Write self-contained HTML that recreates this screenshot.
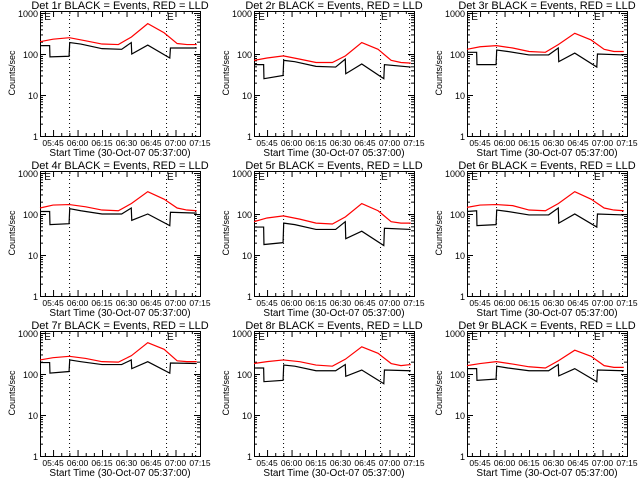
<!DOCTYPE html>
<html><head><meta charset="utf-8"><style>
body{margin:0;background:#fff}
svg{display:block}
text{font-family:"Liberation Sans",sans-serif;fill:#000}
</style></head><body>
<svg id="chart" width="640" height="480" viewBox="0 0 640 480" xmlns="http://www.w3.org/2000/svg"></svg>
<script>
const tickLabels = ["05:45","06:00","06:15","06:30","06:45","07:00","07:15"];
const tickMinutes = [8,23,38,53,68,83,98];
const yTickValues = [1,10,100,1000];
const blackTimes = [0,5.9,6.1,17.8,18.2,25,38,50,55.9,56.2,66,79.5,79.9,96];
const redTimes = [0,8,18,28,38,48,56,66,76,84,90,96];
const detectorNames = ["Det 1r","Det 2r","Det 3r","Det 4r","Det 5r","Det 6r","Det 7r","Det 8r","Det 9r"];
const black1 = [160,160,85,88,190,175,135,130,190,100,165,80,140,140];
const red1 = [200,230,250,210,175,170,260,550,330,180,170,170];
const black2 = [55,55,25,30,70,65,50,48,75,33,57,25,55,48];
const red2 = [70,80,90,75,62,62,90,190,130,70,62,60];
const black3 = [110,110,55,55,125,115,95,95,140,65,105,48,100,95];
const red3 = [130,150,160,140,115,110,170,320,220,130,115,115];
const black4 = [115,115,55,58,135,120,100,100,140,70,100,52,110,105];
const red4 = [140,165,170,150,125,120,180,350,230,140,125,120];
const black5 = [48,48,18,20,60,55,42,42,65,25,38,17,45,42];
const red5 = [65,80,90,75,60,57,85,180,120,65,60,60];
const black6 = [115,120,52,55,125,115,95,95,140,60,100,48,100,95];
const red6 = [145,165,170,160,125,120,180,350,230,140,125,120];
const black7 = [190,190,105,115,220,200,170,170,220,135,200,105,185,180];
const red7 = [220,250,270,240,200,195,280,580,400,210,200,200];
const black8 = [140,140,65,70,165,155,120,120,170,88,125,58,125,120];
const red8 = [180,200,220,200,165,155,230,460,320,180,160,170];
const black9 = [135,135,70,75,155,140,120,120,170,90,135,65,125,120];
const red9 = [160,180,200,175,150,140,210,380,270,160,145,145];
const blackSeries = [black1,black2,black3,black4,black5,black6,black7,black8,black9];
const redSeries = [red1,red2,red3,red4,red5,red6,red7,red8,red9];
const dottedMinutes = [17.8,77.2,95];

const NS="http://www.w3.org/2000/svg";
const svg=document.getElementById('chart');
const W=160, T=11, B=136, TMAX=98, DEC=41;
function mk(tag,attrs,parent){const e=document.createElementNS(NS,tag);for(const k in attrs)e.setAttribute(k,attrs[k]);parent.appendChild(e);return e;}
for(let p=0;p<9;p++){
  const L=[40,254,467][p%3], off=Math.floor(p/3)*160;
  const xs=t=>L+t/TMAX*W;
  const ys=v=>off+B-Math.log10(v)*DEC;
  const g=mk('g',{},svg);
  
  
  const title=mk('text',{x:L+W/2,y:off+9,'text-anchor':'middle','font-size':'11'},g);
  title.textContent=detectorNames[p]+" BLACK = Events, RED = LLD";
  
  
  const box=mk('rect',{x:L+0.5,y:off+T+0.5,width:W,height:B-T,fill:'none',stroke:'#000','stroke-width':1},g);
  
  
  // y ticks
  for(let d=0;d<4;d++){
    for(let m=1;m<10;m++){
      const v=Math.pow(10,d)*m; const y=ys(v); if(y<off+T)continue;
      const len=m===1?6:3;
      mk('line',{x1:L,y1:y+0.5,x2:L+len,y2:y+0.5,stroke:'#000'},g);
      mk('line',{x1:L+W,y1:y+0.5,x2:L+W-len,y2:y+0.5,stroke:'#000'},g);
    }
  }
  yTickValues.forEach(v=>{
    const tl=mk('text',{x:L-2,y:ys(v)+4,'text-anchor':'end','font-size':'9'},g);
    tl.textContent=String(v);
    
    
  });
  // x ticks
  for(let t=3;t<=TMAX;t+=5){
    const major=(t-8)%15===0; const x=xs(t)+0.5, len=major?6:3;
    mk('line',{x1:x,y1:off+B,x2:x,y2:off+B-len,stroke:'#000'},g);
    mk('line',{x1:x,y1:off+T,x2:x,y2:off+T+len,stroke:'#000'},g);
  }
  tickLabels.forEach((s,i)=>{
    const tl=mk('text',{x:xs(tickMinutes[i]),y:off+B+10,'text-anchor':'middle','font-size':'8.5'},g);
    tl.textContent=s;
    
    
  });
  const xt=mk('text',{x:L+W/2,y:off+B+20,'text-anchor':'middle','font-size':'10'},g);
  xt.textContent="Start Time (30-Oct-07 05:37:00)";
  
  
  const yt=mk('text',{x:0,y:0,'text-anchor':'middle','font-size':'9',transform:`translate(${L-25},${off+73}) rotate(-90)`},g);
  yt.textContent="Counts/sec";
  
  
  dottedMinutes.forEach(t=>{
    const dl=mk('line',{x1:xs(t)+0.5,y1:off+T,x2:xs(t)+0.5,y2:off+B,stroke:'#000','stroke-dasharray':'1,3'},g);
    
    
  });
  [2,dottedMinutes[1]].forEach(t=>{
    const e=mk('text',{x:xs(t)+1,y:off+T+9,'font-size':'10'},g);
    e.textContent="E";
    
    
  });
  const rp=mk('polyline',{points:redTimes.map((t,i)=>xs(t)+','+ys(redSeries[p][i])).join(' '),fill:'none',stroke:'#ff0000','stroke-width':1.2},g);
  
  
  const bp=mk('polyline',{points:blackTimes.map((t,i)=>xs(t)+','+ys(blackSeries[p][i])).join(' '),fill:'none',stroke:'#000','stroke-width':1.2},g);
  
  
}
</script>
</body></html>
